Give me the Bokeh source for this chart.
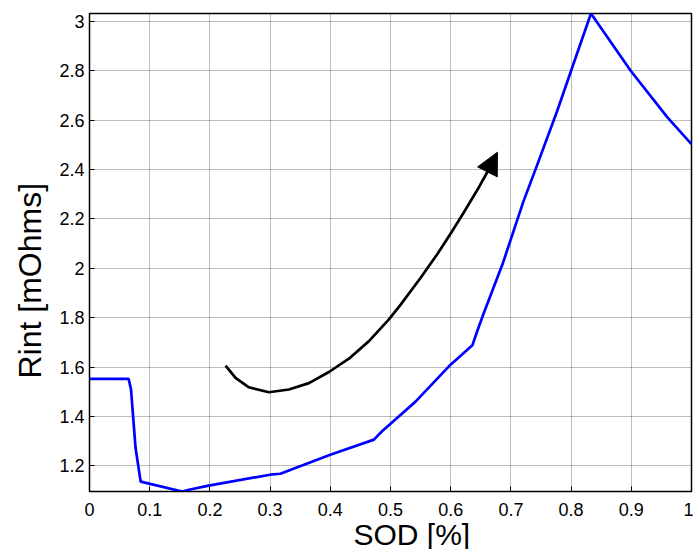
from bokeh.plotting import figure
from bokeh.models import Range1d, FixedTicker, Arrow, NormalHead, Title
from bokeh.embed import file_html
from bokeh.resources import INLINE

# ---- data ----
sod = [0.0, 0.065, 0.069, 0.0765, 0.085, 0.154, 0.165, 0.198, 0.300, 0.317, 0.400,
       0.4725, 0.486, 0.517, 0.542, 0.597, 0.636, 0.644, 0.655, 0.686, 0.721,
       0.744, 0.777, 0.800, 0.833, 0.899, 0.960, 1.000]
rint = [1.552, 1.552, 1.509, 1.272, 1.136, 1.096, 1.103, 1.120, 1.164, 1.168, 1.245,
        1.306, 1.340, 1.407, 1.461, 1.603, 1.688, 1.745, 1.819, 2.016, 2.272,
        2.421, 2.638, 2.800, 3.032, 2.800, 2.611, 2.503]

arrow_x = [0.2260, 0.2426, 0.2647, 0.2980, 0.3312, 0.3645, 0.3977, 0.4309, 0.4642,
           0.4974, 0.5169, 0.5501, 0.5779, 0.6000, 0.6222, 0.6444, 0.6609]
arrow_y = [1.606, 1.556, 1.518, 1.498, 1.509, 1.535, 1.580, 1.634, 1.705,
           1.793, 1.853, 1.962, 2.058, 2.141, 2.228, 2.318, 2.390]
arrow_tip = [0.6776, 2.470]

x_ticks = [0.0, 0.1, 0.2, 0.3, 0.4, 0.5, 0.6, 0.7, 0.8, 0.9, 1.0]
x_tick_labels = ["0", "0.1", "0.2", "0.3", "0.4", "0.5", "0.6", "0.7", "0.8", "0.9", "1"]
y_ticks = [1.2, 1.4, 1.6, 1.8, 2.0, 2.2, 2.4, 2.6, 2.8, 3.0]
y_tick_labels = ["1.2", "1.4", "1.6", "1.8", "2", "2.2", "2.4", "2.6", "2.8", "3"]

x_label = "SOD [%]"
y_label = "Rint [mOhms]"

FONT = "Liberation Sans"

p = figure(width=693, height=549, output_backend="svg", toolbar_location=None,
           x_range=Range1d(0, 1), y_range=Range1d(min(rint), max(rint)),
           min_border_left=89, min_border_right=2, min_border_top=13, min_border_bottom=0,
           title=None)
p.background_fill_color = "white"
p.border_fill_color = "white"
p.outline_line_color = "black"
p.outline_line_width = 1.5

def style_axis(ax, ticks, labels):
    ax.ticker = FixedTicker(ticks=ticks)
    ax.major_label_overrides = dict(zip(ticks, labels))
    ax.major_tick_in = 5
    ax.major_tick_out = 0
    ax.minor_tick_line_color = None
    ax.major_tick_line_color = "black"
    ax.axis_line_color = "black"
    ax.major_label_text_font = FONT
    ax.major_label_text_color = "black"
    ax.major_label_text_font_size = "18px"

style_axis(p.xaxis[0], x_ticks, x_tick_labels)
style_axis(p.yaxis[0], y_ticks, y_tick_labels)
p.xaxis[0].major_label_standoff = 11
p.yaxis[0].major_label_standoff = 5

p.xgrid.ticker = FixedTicker(ticks=x_ticks)
p.ygrid.ticker = FixedTicker(ticks=y_ticks)
p.grid.grid_line_color = "#222222"
p.grid.grid_line_alpha = 0.6
p.grid.grid_line_dash = "1 1"
p.grid.grid_line_width = 1

p.line(sod, rint, line_color="#0000FF", line_width=2.7)

p.line(arrow_x, arrow_y, line_color="black", line_width=2.7, line_join="round")
p.add_layout(Arrow(end=NormalHead(size=22, fill_color="black", line_color="black", line_width=1),
                   x_start=arrow_x[-1], y_start=arrow_y[-1],
                   x_end=arrow_tip[0], y_end=arrow_tip[1],
                   line_color="black", line_width=2.7))

# axis titles as side-panel titles (the reference does not centre them on the frame)
p.add_layout(Title(text=x_label, align="left", offset=264, vertical_align="middle",
                   standoff=-4, text_font=FONT, text_font_size="30px",
                   text_font_style="normal", text_color="black"), "below")
p.add_layout(Title(text=y_label, align="left", offset=113, vertical_align="bottom",
                   standoff=17, text_font=FONT, text_font_size="32px",
                   text_font_style="normal", text_color="black"), "left")

open("out.html", "w").write(file_html(p, INLINE))
